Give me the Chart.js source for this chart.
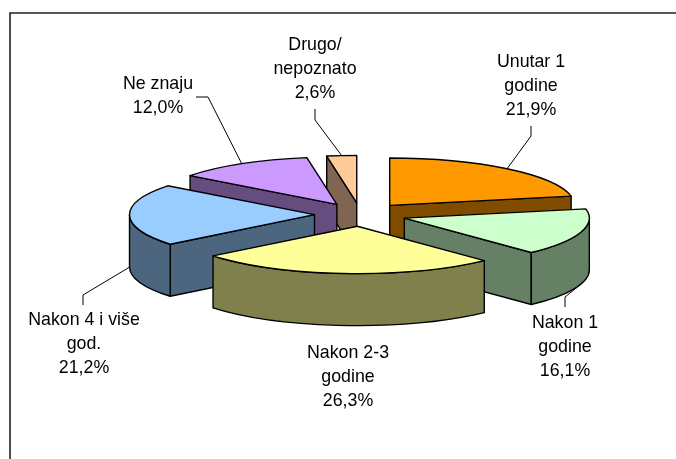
<!DOCTYPE html>
<html><head><meta charset="utf-8">
<style>html,body{margin:0;padding:0;background:#fff}#box{position:absolute;left:0;top:0;width:676px;height:459px}</style>
<script src="https://cdn.jsdelivr.net/npm/chart.js@4"></script>
</head><body><div id="box"><canvas id="c" width="676" height="459"></canvas></div>
<script>
const categories = ["Unutar 1\ngodine", "Nakon 1\ngodine", "Nakon 2-3\ngodine", "Nakon 4 i više\ngod.", "Ne znaju", "Drugo/\nnepoznato"];
const values = [21.9, 16.1, 26.3, 21.2, 12.0, 2.6];
const topColors = ["#FF9900", "#CCFFCC", "#FFFF99", "#99CCFF", "#CC99FF", "#FFCC99"];
const wallColors = ["#804D00", "#668066", "#80804D", "#4D6680", "#664D80", "#806650"];
const drawOrder = [5, 0, 4, 3, 1, 2];
const labelCenters = [[531, 62], [565, 323], [348, 353], [84, 320], [158, 84], [315, 45]];
const leaderStarts = [[[531,126],[531,136]], [[565,307],[565,297]], null, [[83,305],[83,295]], [[196,97],[208,97]], [[315,109],[315,120]]];
const squash = 0.256, depth = 52, explode = 46, lineGap = 24;

const pie3d = {
  id: 'pie3d',
  beforeDatasetsDraw(chart) {
    const ctx = chart.ctx, arcs = chart.getDatasetMeta(0).data;
    const ell = (a, g, dy) => [g.x + g.r * Math.cos(a), g.y + g.r * squash * Math.sin(a) + (dy || 0)];
    const geoms = arcs.map(el => {
      const p = el.getProps(['x','y','startAngle','endAngle','outerRadius'], true);
      const mid = (p.startAngle + p.endAngle) / 2;
      return {x: p.x + explode * Math.cos(mid), y: p.y + explode * squash * Math.sin(mid),
              r: p.outerRadius, s: p.startAngle, e: p.endAngle, mid};
    });
    ctx.save();
    ctx.lineWidth = 1.4; ctx.strokeStyle = '#000'; ctx.lineJoin = 'round';
    const face = (fill) => { ctx.fillStyle = fill; ctx.fill(); ctx.stroke(); };
    const radialWall = (g, a, col) => {
      const q = ell(a, g);
      ctx.beginPath(); ctx.moveTo(g.x, g.y); ctx.lineTo(q[0], q[1]);
      ctx.lineTo(q[0], q[1] + depth); ctx.lineTo(g.x, g.y + depth); ctx.closePath(); face(col);
    };
    drawOrder.forEach(i => {
      const g = geoms[i], col = wallColors[i];
      if (Math.cos(g.s) < -1e-6) radialWall(g, g.s, col);
      if (Math.cos(g.e) > 1e-6) radialWall(g, g.e, col);
      const ranges = [[0, Math.PI], [2 * Math.PI, 3 * Math.PI]];
      ranges.forEach(r => {
        const lo = Math.max(g.s, r[0]), hi = Math.min(g.e, r[1]);
        if (lo < hi) {
          ctx.beginPath();
          ctx.ellipse(g.x, g.y, g.r, g.r * squash, 0, lo, hi);
          ctx.ellipse(g.x, g.y + depth, g.r, g.r * squash, 0, hi, lo, true);
          ctx.closePath(); face(col);
        }
      });
      ctx.beginPath(); ctx.moveTo(g.x, g.y);
      ctx.ellipse(g.x, g.y, g.r, g.r * squash, 0, g.s, g.e);
      ctx.closePath(); face(topColors[i]);
    });
    // leader lines
    ctx.lineWidth = 1; ctx.strokeStyle = '#000';
    geoms.forEach((g, i) => {
      if (!leaderStarts[i]) return;
      const end = ell(g.mid, g, Math.sin(g.mid) > 0 ? depth : 0);
      ctx.beginPath();
      leaderStarts[i].forEach((p, k) => k ? ctx.lineTo(p[0], p[1]) : ctx.moveTo(p[0], p[1]));
      ctx.lineTo(end[0], end[1]); ctx.stroke();
    });
    // labels
    ctx.fillStyle = '#000'; ctx.font = '17.8px "Liberation Sans"';
    ctx.textAlign = 'center'; ctx.textBaseline = 'middle';
    categories.forEach((c, i) => {
      const lines = c.split('\n').concat(values[i].toFixed(1).replace('.', ',') + '%');
      lines.forEach((t, k) => ctx.fillText(t, labelCenters[i][0], labelCenters[i][1] + k * lineGap));
    });
    ctx.restore();
    return false;
  },
  beforeDraw(chart) {
    const ctx = chart.ctx;
    ctx.save(); ctx.fillStyle = '#fff'; ctx.fillRect(0, 0, 676, 459);
    ctx.strokeStyle = '#222'; ctx.lineWidth = 1.6;
    ctx.beginPath(); ctx.moveTo(10, 459); ctx.lineTo(10, 13); ctx.lineTo(676, 13); ctx.stroke();
    ctx.restore();
  }
};

new Chart(document.getElementById('c'), {
  type: 'pie',
  data: { labels: categories, datasets: [{ data: values, backgroundColor: topColors, borderWidth: 0, radius: 185 }] },
  options: {
    responsive: false, animation: false,
    layout: { padding: { left: 45, right: 0, top: 0, bottom: 30 } },
    plugins: { legend: { display: false }, tooltip: { enabled: false } }
  },
  plugins: [pie3d]
});
</script></body></html>
